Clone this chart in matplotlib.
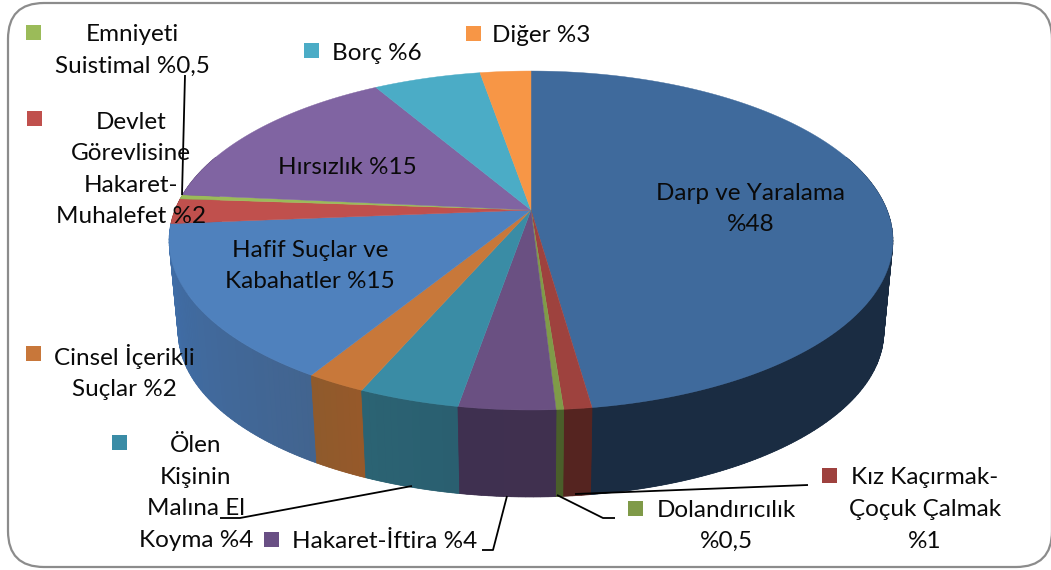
import numpy as np
import matplotlib
matplotlib.use("Agg")
import matplotlib.pyplot as plt
from matplotlib.patches import FancyBboxPatch, Rectangle, Polygon
from matplotlib.colors import to_rgb

W, H = 1051, 570
# slice shares (clockwise from 12 o'clock)
names = ["Darp ve Yaralama", "Kız Kaçırmak-Çoçuk Çalmak", "Dolandırıcılık", "Hakaret-İftira",
         "Ölen Kişinin Malına El Koyma", "Cinsel İçerikli Suçlar", "Hafif Suçlar ve Kabahatler",
         "Devlet Görevlisine Hakaret-Muhalefet", "Emniyeti Suistimal", "Hırsızlık", "Borç", "Diğer"]
shares = [47.75, 1.05, 0.28, 3.62, 3.8, 2.25, 14.95, 2.4, 0.4, 15.1, 5.7, 2.7]
labels = ["Darp ve Yaralama\n%48", "Kız Kaçırmak-\nÇoçuk Çalmak\n%1", "Dolandırıcılık\n%0,5",
          "Hakaret-İftira %4", "Ölen\nKişinin\nMalına El\nKoyma %4", "Cinsel İçerikli\nSuçlar %2",
          "Hafif Suçlar ve\nKabahatler %15", "Devlet\nGörevlisine\nHakaret-\nMuhalefet %2",
          "Emniyeti\nSuistimal %0,5", "Hırsızlık %15", "Borç %6", "Diğer %3"]

top_cols = ["#3f6a9c", "#9e423e", "#7f9b48", "#6a5082", "#3a8ca5", "#c8783a",
            "#4f81bd", "#c0504d", "#9bbb59", "#8064a2", "#4bacc6", "#f79646"]
key_cols = ["#3f6a9c", "#9e413e", "#7f9a48", "#694f84", "#3a8ca6", "#c8773a",
            "#4f81bd", "#c0504d", "#9bbb59", "#8064a2", "#4bacc6", "#f79646"]
side_a = ["#1a2c42", "#552420", "#4a5e2a", "#40304f", "#2a5f70", "#96592a",
          "#42648f", "#7a3230", "#60753a", "#4f3e66", "#2f6c7d", "#9c5e2c"]
side_b = ["#1a2c42", "#552420", "#4a5e2a", "#3f3050", "#2b6373", "#8f5a2c",
          "#3f70ad", "#7a3230", "#60753a", "#4f3e66", "#2f6c7d", "#9c5e2c"]

# label layout: name index -> text centre, key corner
text_xy = [(751, 208), (925, 508.5), (726, 525), (384.5, 541), (196, 492), (124, 371),
           (310, 265), (131, 168.5), (132, 49.5), (347, 167), (376.5, 52), (541.5, 34)]
key_xy = [None, (822, 468), (628, 501), (264, 532), (112, 435), (26, 346),
          None, (27, 111), (26, 25), None, (304, 43), (466, 26)]
leaders = [[(185, 75), (182, 195)],
           [(220, 518), (240, 518), (412, 486)],
           [(482, 550), (493, 550), (507, 496)],
           [(615, 518), (603, 518), (557, 495)],
           [(808, 485), (575, 494)]]

CX, CY = 531, 210
A, B, K = 356, 164, 0.18
SHRINK, DROP = 0.975, 92


def rim(theta, lower=False):
    u, v = np.sin(theta), -np.cos(theta)
    d = 1 - K * v
    s = SHRINK if lower else 1.0
    return CX + A * s * u / d, CY + (DROP if lower else 0) + B * s * v / d


def wall_poly(t):
    x0, y0 = rim(t)
    x1, y1 = rim(t, lower=True)
    return np.column_stack([np.r_[x0, x1[::-1]], np.r_[y0, y1[::-1]]])


fig = plt.figure(figsize=(W / 100, H / 100), dpi=100)
ax = fig.add_axes([0, 0, 1, 1])
ax.set_xlim(0, W)
ax.set_ylim(H, 0)
ax.axis("off")

ax.add_patch(FancyBboxPatch((8 + 36, 3 + 36), 1044 - 72, 564 - 72,
                            boxstyle="round,pad=36,rounding_size=36",
                            fc="white", ec="#8c8c8c", lw=1.6, zorder=0))

edges = 2 * np.pi * np.concatenate([[0], np.cumsum(shares)]) / np.sum(shares)
LO, HI = np.radians(70), np.radians(290)

# outer wall, front part only; farthest from the front is painted first
mids = (edges[:-1] + edges[1:]) / 2
z = 2.0
for i in sorted(range(len(shares)), key=lambda q: -abs(mids[q] - np.pi)):
    lo, hi = max(edges[i], LO), min(edges[i + 1], HI)
    if hi <= lo:
        continue
    n = max(2, int(np.degrees(hi - lo)))
    th = np.linspace(lo, hi, n + 1)
    ca, cb = np.array(to_rgb(side_a[i])), np.array(to_rgb(side_b[i]))
    z += 0.01
    ax.add_patch(Polygon(wall_poly(th), fc=(ca + cb) / 2, ec="none", zorder=z))
    order = range(n - 1, -1, -1) if mids[i] > np.pi else range(n)
    for j in order:
        f = (j + 0.5) / n
        c = ca * (1 - f) + cb * f
        z += 0.0001
        ax.add_patch(Polygon(wall_poly(np.linspace(th[j], th[j + 1], 3)),
                             fc=c, ec=c, lw=0.5, zorder=z))

# top face
for i in range(len(shares)):
    t = np.linspace(edges[i], edges[i + 1], max(3, int(shares[i] * 8)))
    x, y = rim(t)
    ax.add_patch(Polygon(np.column_stack([np.r_[CX, x], np.r_[CY, y]]),
                         fc=top_cols[i], ec=top_cols[i], lw=0.3, zorder=3))

for pts in leaders:
    p = np.array(pts)
    ax.plot(p[:, 0], p[:, 1], color="black", lw=1.3, zorder=4, solid_capstyle="butt")

for lab, (x, y), k, col in zip(labels, text_xy, key_xy, key_cols):
    ax.text(x, y + 1, lab, ha="center", va="center", ma="center", family="Lato",
            fontsize=17.5, linespacing=1.62, color="#0a0a0a", zorder=5)
    if k:
        ax.add_patch(Rectangle(k, 15, 15, fc=col, ec="none", zorder=5))

fig.savefig("out.png", dpi=100)
